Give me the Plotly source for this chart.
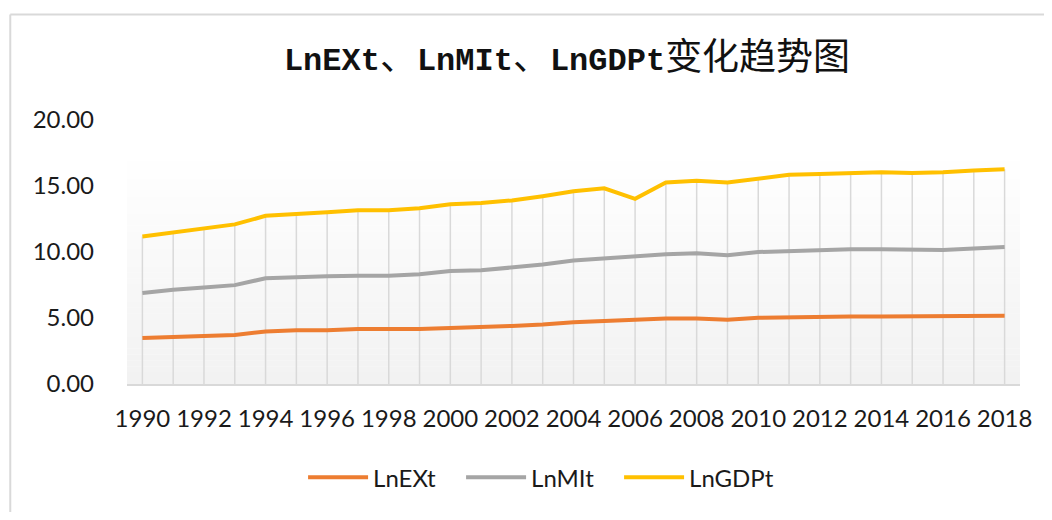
import plotly.graph_objects as go

years = list(range(1990, 2019))
ln_ex = [3.48, 3.56, 3.61, 3.71, 3.98, 4.08, 4.08, 4.16, 4.16, 4.16,
         4.25, 4.30, 4.40, 4.50, 4.68, 4.78, 4.87, 4.97, 4.97, 4.87,
         5.02, 5.07, 5.07, 5.12, 5.12, 5.12, 5.12, 5.17, 5.17]
ln_mi = [6.89, 7.14, 7.31, 7.49, 8.01, 8.11, 8.16, 8.21, 8.21, 8.31,
         8.56, 8.61, 8.81, 9.05, 9.35, 9.50, 9.68, 9.83, 9.90, 9.75,
         10.00, 10.07, 10.12, 10.20, 10.20, 10.15, 10.15, 10.27, 10.37]
ln_gdp = [11.17, 11.49, 11.84, 12.09, 12.74, 12.91, 13.01, 13.16, 13.16, 13.31,
          13.61, 13.71, 13.91, 14.23, 14.60, 14.83, 14.03, 15.27, 15.40, 15.27,
          15.57, 15.85, 15.90, 15.99, 16.04, 15.99, 16.04, 16.17, 16.27]
x_tick_labels = [str(y) for y in range(1990, 2019, 2)]
y_tick_vals = [0, 5, 10, 15, 20]

series_names = ["LnEXt", "LnMIt", "LnGDPt"]
series_colors = ["#ED7D31", "#A5A5A5", "#FFC000"]

OFF = 8  # default body margin of the page
W, H = 1052 - 2 * OFF, 520 - 2 * OFF
# plot area in page pixels: x 127..1022, y 120..388
ML = 127 - OFF
MT = 120 - OFF
MR = W - (1022 - OFF)
MB = H - (388 - OFF)
PW, PH = W - ML - MR, H - MT - MB


def px_to_paper_x(px):
    return (px - OFF - ML) / PW


def py_to_paper_y(py):
    return (H - MB - (py - OFF)) / PH


fig = go.Figure()

# drop lines from the highest series down to the category axis
top_vals = [max(a, b, c) for a, b, c in zip(ln_ex, ln_mi, ln_gdp)]
dx, dy = [], []
for yr, v in zip(years, top_vals):
    dx += [yr, yr, None]
    dy += [0, v, None]
fig.add_trace(go.Scatter(x=dx, y=dy, mode="lines",
                         line=dict(color="#D9D9D9", width=1.5),
                         hoverinfo="skip", showlegend=False))

for name, vals, col in zip(series_names, [ln_ex, ln_mi, ln_gdp], series_colors):
    fig.add_trace(go.Scatter(x=years, y=vals, mode="lines", name=name,
                             line=dict(color=col, width=4)))

shapes = []
# plot-area gradient (white at top to light grey at bottom)
n = 40
top = py_to_paper_y(150)
for i in range(n):
    y0 = top * i / n
    y1 = top * (i + 1) / n
    t = (i + 0.5) / n
    c = int(round(242 + (255 - 242) * t))
    shapes.append(dict(type="rect", xref="paper", yref="paper",
                       x0=0, x1=1, y0=y0, y1=y1 + 0.001, layer="below",
                       line=dict(width=0), fillcolor=f"rgb({c},{c},{c})"))
# chart border (top & left visible)
shapes.append(dict(type="line", xref="paper", yref="paper",
                   x0=px_to_paper_x(10), x1=px_to_paper_x(1070),
                   y0=py_to_paper_y(13), y1=py_to_paper_y(13),
                   line=dict(color="#D9D9D9", width=2)))
shapes.append(dict(type="line", xref="paper", yref="paper",
                   x0=px_to_paper_x(10), x1=px_to_paper_x(10),
                   y0=py_to_paper_y(13), y1=py_to_paper_y(540),
                   line=dict(color="#D9D9D9", width=2)))

lat = "font-family:'Liberation Mono';font-size:32px;font-weight:bold"
title_text = (f"<span style=\"{lat}\">LnEXt</span>、"
              f"<span style=\"{lat}\">LnMIt</span>、"
              f"<span style=\"{lat}\">LnGDPt</span>变化趋势图")

fig.update_layout(
    width=W, height=H,
    margin=dict(l=ML, r=MR, t=MT, b=MB),
    paper_bgcolor="white", plot_bgcolor="rgba(0,0,0,0)",
    font=dict(family="Lato, Calibri, sans-serif", size=24, color="#1a1a1a"),
    title=dict(text=title_text,
               font=dict(family="Noto Sans CJK SC", size=37, color="#111"),
               x=px_to_paper_x(568), xref="paper", xanchor="center",
               y=1 - (57 - OFF) / H, yref="container", yanchor="middle"),
    shapes=shapes,
    showlegend=True,
    legend=dict(orientation="h", x=px_to_paper_x(541), xanchor="center",
                y=py_to_paper_y(483), yanchor="middle",
                font=dict(size=24, color="#1a1a1a"),
                entrywidth=83, entrywidthmode="pixels", itemwidth=60,
                bgcolor="rgba(0,0,0,0)"),
    xaxis=dict(range=[1989.5, 2018.5], tickvals=list(range(1990, 2019, 2)),
               ticktext=x_tick_labels, showgrid=False, zeroline=False,
               showline=True, linecolor="#D9D9D9", linewidth=2,
               ticks="", ticklabelstandoff=12),
    yaxis=dict(range=[0, 20], tickvals=y_tick_vals, tickformat=".2f",
               showgrid=False, zeroline=False, showline=False,
               ticks="", ticklabelstandoff=32),
)

fig.write_html("out.html")
